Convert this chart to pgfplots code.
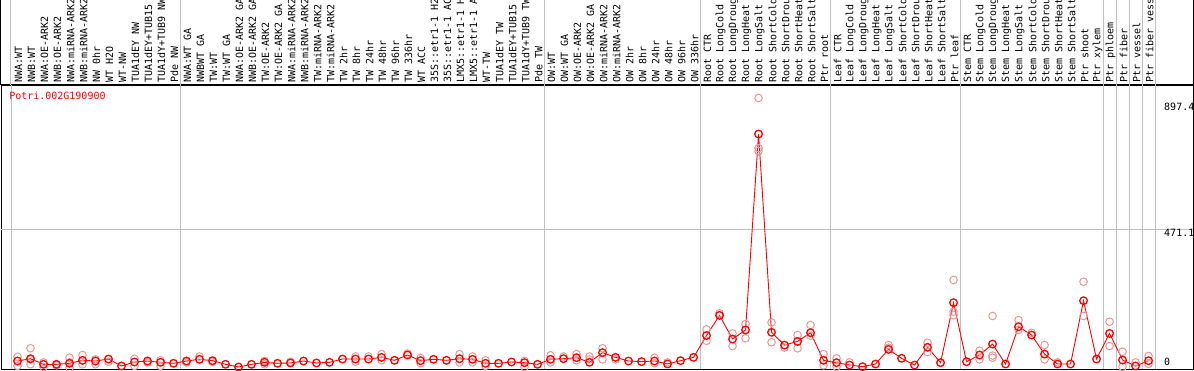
\documentclass[border=0pt]{standalone}
\usepackage{graphicx}
\usepackage{fontspec}
\setmainfont{DejaVu Sans Mono}
\usepackage{pgfplots}
\pgfplotsset{compat=1.18}
\usepackage{pgfplotstable}
\definecolor{rep}{RGB}{236,150,150}
\definecolor{gridc}{RGB}{192,192,192}
\newcommand{\R}[1]{\rotatebox{90}{#1}}

\pgfplotstableread{
x y
1 24.7
2 32.5
3 13.5
4 13.5
5 16.9
6 27
7 24.7
8 31.4
9 7.8
10 21.3
11 24.7
12 20.2
13 16.9
14 24.7
15 30.4
16 25.8
17 13.5
18 4.4
19 13.5
20 20.2
21 16.9
22 18
23 24.7
24 18
25 20.2
26 31.4
27 31.4
28 31.4
29 37
30 27
31 45
32 25.8
33 30.4
34 27
35 32.5
36 30.4
37 16.9
38 16.9
39 21.3
40 19
41 13.5
42 30.4
43 32.5
44 36
45 20.2
46 53
47 37
48 24.7
49 22.6
50 24.7
51 14.6
52 25.8
53 37
54 111
55 179
56 99
57 129.6
58 792.6
59 121.8
60 78.5
61 91
62 120.4
63 27
64 19
65 11
66 5.4
67 14.5
68 64
69 33.8
70 11
71 71
72 19
73 222
74 22.3
75 45
76 82
77 14.5
78 140.7
79 112.6
80 48
81 14.5
82 14.5
83 228.7
84 31.4
85 118
86 28
87 7.8
88 25.8
}\means

\pgfplotstableread{
x y
1 39
1 8
2 67.7
2 13.5
2 30
3 20
3 4
4 10
5 36
5 1
5 20
6 45
6 13.5
7 30
7 13.5
8 22
10 32.5
10 8
11 20
12 27
12 8
14 20
15 40
16 22
20 25
20 13.5
22 22
27 40
27 22
28 40
29 48
29 27
31 50
32 35
32 17
35 48
35 20
36 40
36 20
37 27
37 8
40 25
40 4
42 44
42 20
43 40
44 48
44 27
45 40
45 30
46 67.7
46 30
47 30
50 36
50 17
51 20
54 132
54 93
55 186
56 118
56 75
57 150
57 101.5
58 914.5
58 735
58 745
59 155
59 88
60 70
61 112.6
61 67.7
62 146.5
62 110
63 48
63 10
64 33.8
64 5
65 20
68 78.8
68 70
71 86.6
71 55
73 298.7
73 191.5
73 180
75 59.5
75 30
76 177
76 43
76 36
78 163
78 130
79 120
80 78.8
80 30
81 20
83 293
83 177
85 157.6
85 75.4
86 56
86 5
87 20
88 41.6
88 15
}\reps

\begin{document}
\begin{tikzpicture}[font=\fontsize{10}{12}\selectfont]
\begin{axis}[at={(0pt,0pt)}, anchor=south west, scale only axis,
  width=1192pt, height=284pt,
  xmin=-0.2692, xmax=91.423, ymin=-2.37, ymax=958.4,
  xtick=\empty, ytick=\empty,
  extra x ticks={0.5,13.5,41.5,53.5,63.5,73.5,84.5,85.5,86.5,87.5,88.5},
  extra x tick labels={},
  extra y ticks={471.1}, extra y tick labels={},
  extra tick style={grid=major, major tick length=0pt, major grid style={gridc, line width=1pt}},
  axis line style={black, line width=1pt}]
\addplot[only marks, mark=o, mark size=3.8pt, mark options={draw=rep, line width=1pt}] table[x=x,y=y]{\reps};
\addplot[red, line width=0.9pt, mark=o, mark size=3.8pt, mark options={draw=red, line width=1.3pt}] table[x=x,y=y]{\means};
\node[anchor=north west, inner sep=0pt, text=red] at (axis cs:0.35,935) {Potri.002G190900};
\node[anchor=north west, inner sep=0pt] at (axis cs:89.19,897.4) {897.4};
\node[anchor=north west, inner sep=0pt] at (axis cs:89.19,471.1) {471.1};
\node[anchor=south west, inner sep=0pt] at (axis cs:89.19,8) {0};
\end{axis}
\begin{axis}[at={(0pt,284pt)}, anchor=south west, scale only axis,
  width=1192pt, height=85pt,
  xmin=-0.2692, xmax=91.423, ymin=0, ymax=1,
  xtick={1,...,88}, ytick=\empty, major tick length=0pt,
  xticklabel style={anchor=south, inner sep=0pt, yshift=2pt, xshift=1pt},
  xticklabels={{\R{NWA:WT}}, {\R{NWB:WT}}, {\R{NWA:OE-ARK2}}, {\R{NWB:OE-ARK2}}, {\R{NWA:miRNA-ARK2}}, {\R{NWB:miRNA-ARK2}}, {\R{NW 0hr}}, {\R{WT H2O}}, {\R{WT-NW}}, {\R{TUA1dEY NW}}, {\R{TUA1dEY+TUB15}}, {\R{TUA1dY+TUB9 NW}}, {\R{Pde NW}},
  {\R{NWA:WT GA}}, {\R{NWBWT GA}}, {\R{TW:WT}}, {\R{TW:WT GA}}, {\R{NWA:OE-ARK2 GA}}, {\R{NWB:OE-ARK2 GA}}, {\R{TW:OE-ARK2}}, {\R{TW:OE-ARK2 GA}}, {\R{NWA:miRNA-ARK2}}, {\R{NWB:miRNA-ARK2}}, {\R{TW:miRNA-ARK2}}, {\R{TW:miRNA-ARK2}}, {\R{TW 2hr}}, {\R{TW 8hr}}, {\R{TW 24hr}}, {\R{TW 48hr}}, {\R{TW 96hr}}, {\R{TW 336hr}}, {\R{WT ACC}}, {\R{35S::etr1-1 H2}}, {\R{35S::etr1-1 AC}}, {\R{LMX5::etr1-1 H}}, {\R{LMX5::etr1-1 A}}, {\R{WT-TW}}, {\R{TUA1dEY TW}}, {\R{TUA1dEY+TUB15}}, {\R{TUA1dY+TUB9 TW}}, {\R{Pde TW}},
  {\R{OW:WT}}, {\R{OW:WT GA}}, {\R{OW:OE-ARK2}}, {\R{OW:OE-ARK2 GA}}, {\R{OW:miRNA-ARK2}}, {\R{OW:miRNA-ARK2}}, {\R{OW 2hr}}, {\R{OW 8hr}}, {\R{OW 24hr}}, {\R{OW 48hr}}, {\R{OW 96hr}}, {\R{OW 336hr}},
  {\R{Root CTR}}, {\R{Root LongCold}}, {\R{Root LongDroug}}, {\R{Root LongHeat}}, {\R{Root LongSalt}}, {\R{Root ShortCold}}, {\R{Root ShortDrou}}, {\R{Root ShortHeat}}, {\R{Root ShortSalt}}, {\R{Ptr root}},
  {\R{Leaf CTR}}, {\R{Leaf LongCold}}, {\R{Leaf LongDroug}}, {\R{Leaf LongHeat}}, {\R{Leaf LongSalt}}, {\R{Leaf ShortCold}}, {\R{Leaf ShortDrou}}, {\R{Leaf ShortHeat}}, {\R{Leaf ShortSalt}}, {\R{Ptr leaf}},
  {\R{Stem CTR}}, {\R{Stem LongCold}}, {\R{Stem LongDroug}}, {\R{Stem LongHeat}}, {\R{Stem LongSalt}}, {\R{Stem ShortCold}}, {\R{Stem ShortDrou}}, {\R{Stem ShortHeat}}, {\R{Stem ShortSalt}}, {\R{Ptr shoot}},
  {\R{Ptr xylem}}, {\R{Ptr phloem}}, {\R{Ptr fiber}}, {\R{Ptr vessel}}, {\R{Ptr fiber vess}}},
  extra x ticks={0.5,13.5,41.5,53.5,63.5,73.5,84.5,85.5,86.5,87.5,88.5},
  extra x tick labels={},
  extra tick style={grid=major, major tick length=0pt, major grid style={gridc, line width=1pt}},
  axis line style={black, line width=1pt}]
\end{axis}
\pgfresetboundingbox
\path[use as bounding box] (-1pt,-1pt) rectangle (1193pt,369pt);
\end{tikzpicture}
\end{document}
